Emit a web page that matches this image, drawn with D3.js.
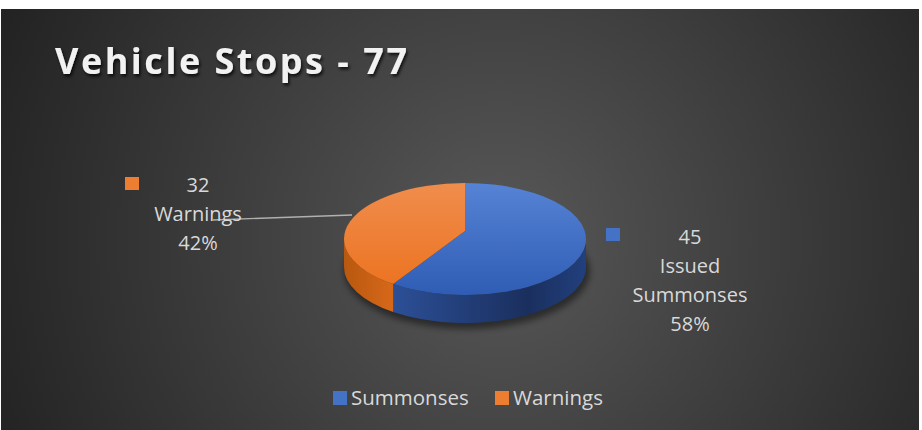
<!DOCTYPE html>
<html>
<head>
<meta charset="utf-8">
<script src="https://cdn.jsdelivr.net/npm/d3@7"></script>
<style>
  html, body { margin: 0; padding: 0; background: #fff; }
  body { font-family: "Open Sans", sans-serif; }
</style>
</head>
<body>
<div id="container"><svg></svg></div>
<script>
let width = 922;
let height = 430;

// data
let categories = ['Summonses', 'Warnings'];
let labels = ['Issued\nSummonses', 'Warnings'];
let values = [45, 32];
let title = 'Vehicle Stops - 77';

let topColors = ['#4472C4', '#ED7D31'];

function draw_main() {
    let svg = d3.select('#container').select('svg')
        .attr('width', width)
        .attr('height', height);

    let defs = svg.append('defs');

    // background gradient
    let bg = defs.append('radialGradient')
        .attr('id', 'bg')
        .attr('gradientUnits', 'userSpaceOnUse')
        .attr('cx', 500).attr('cy', 240).attr('r', 540);
    bg.append('stop').attr('offset', '0%').attr('stop-color', '#585858');
    bg.append('stop').attr('offset', '100%').attr('stop-color', '#232323');

    // top face gradients
    let tg0 = defs.append('linearGradient').attr('id', 'top0')
        .attr('x1', 0).attr('y1', 0).attr('x2', 0).attr('y2', 1);
    tg0.append('stop').attr('offset', '0%').attr('stop-color', '#5683d4');
    tg0.append('stop').attr('offset', '100%').attr('stop-color', '#2f5db5');
    let tg1 = defs.append('linearGradient').attr('id', 'top1')
        .attr('x1', 0).attr('y1', 0).attr('x2', 0).attr('y2', 1);
    tg1.append('stop').attr('offset', '0%').attr('stop-color', '#f08d4d');
    tg1.append('stop').attr('offset', '100%').attr('stop-color', '#ec7422');

    // side gradients
    let sg0 = defs.append('linearGradient').attr('id', 'side0')
        .attr('x1', 0).attr('y1', 0).attr('x2', 1).attr('y2', 0);
    sg0.append('stop').attr('offset', '0%').attr('stop-color', '#2c4f96');
    sg0.append('stop').attr('offset', '70%').attr('stop-color', '#1a2f5e');
    sg0.append('stop').attr('offset', '100%').attr('stop-color', '#22407e');
    let sg1 = defs.append('linearGradient').attr('id', 'side1')
        .attr('x1', 0).attr('y1', 0).attr('x2', 1).attr('y2', 0);
    sg1.append('stop').attr('offset', '0%').attr('stop-color', '#b8580f');
    sg1.append('stop').attr('offset', '100%').attr('stop-color', '#d7681a');

    // shadows
    let f = defs.append('filter').attr('id', 'tshadow')
        .attr('x', '-10%').attr('y', '-30%').attr('width', '120%').attr('height', '160%');
    f.append('feDropShadow').attr('dx', 1.5).attr('dy', 2.5).attr('stdDeviation', 1.8)
        .attr('flood-color', '#000').attr('flood-opacity', 0.75);
    let pf = defs.append('filter').attr('id', 'pshadow')
        .attr('x', '-20%').attr('y', '-30%').attr('width', '140%').attr('height', '160%');
    pf.append('feGaussianBlur').attr('stdDeviation', 3);

    svg.append('rect')
        .attr('x', 1).attr('y', 9)
        .attr('width', 918).attr('height', 421)
        .attr('fill', 'url(#bg)');

    // title
    svg.append('text')
        .attr('x', 55).attr('y', 74)
        .attr('fill', '#f2f2f2')
        .attr('font-size', 36)
        .attr('font-weight', 700)
        .attr('textLength', 352)
        .attr('lengthAdjust', 'spacing')
        .attr('filter', 'url(#tshadow)')
        .text(title);

    // pie geometry
    let cx = 465, cy = 239, rx = 121, ry = 56, depth = 28;
    let apex = [cx, cy - 8];
    let pie = d3.pie().sort(null).startAngle(0).endAngle(2 * Math.PI);
    let arcs = pie(values);
    // front half stretched a little for perspective
    let warp = a => a - 0.12 * Math.sin(2 * (a - Math.PI / 2)) * (Math.cos(a) < 0 ? 1 : 0);
    let pt = (a, dy) => [cx + rx * Math.sin(a), cy - ry * Math.cos(a) + (dy || 0)];

    let g = svg.append('g');

    // shadow under pie
    g.append('ellipse')
        .attr('cx', cx + 2).attr('cy', cy + depth + 4)
        .attr('rx', rx + 2).attr('ry', ry + 2)
        .attr('fill', '#000').attr('opacity', 0.45)
        .attr('filter', 'url(#pshadow)');

    // side walls (front half only)
    arcs.forEach((d, i) => {
        let a0 = Math.max(warp(d.startAngle), Math.PI / 2);
        let a1 = Math.min(warp(d.endAngle), 3 * Math.PI / 2);
        if (a1 <= a0) return;
        let p0 = pt(a0), p1 = pt(a1), q1 = pt(a1, depth), q0 = pt(a0, depth);
        let large = (a1 - a0) > Math.PI ? 1 : 0;
        let path = `M${p0}A${rx},${ry} 0 ${large} 1 ${p1}L${q1}A${rx},${ry} 0 ${large} 0 ${q0}Z`;
        g.append('path').attr('d', path).attr('fill', `url(#side${i})`);
    });

    // top faces
    g.selectAll('path.top')
        .data(arcs)
        .enter()
        .append('path')
        .attr('class', 'top')
        .attr('d', d => {
            let a0 = warp(d.startAngle), a1 = warp(d.endAngle);
            let p0 = pt(a0), p1 = pt(a1);
            let large = (a1 - a0) > Math.PI ? 1 : 0;
            return `M${apex}L${p0}A${rx},${ry} 0 ${large} 1 ${p1}Z`;
        })
        .attr('fill', (d, i) => `url(#top${i})`);

    let total = d3.sum(values);
    let pct = d3.format('.0%');

    // leader line for warnings
    svg.append('line')
        .attr('x1', 213).attr('y1', 220)
        .attr('x2', 352).attr('y2', 215)
        .attr('stroke', '#b0b0b0').attr('stroke-width', 1.3);

    // data labels
    let labelPos = [
        {sq: [606, 228], tx: 690, ty: 244},
        {sq: [125, 177], tx: 198, ty: 192}
    ];
    let lh = 29;
    arcs.forEach((d, i) => {
        let lp = labelPos[i];
        svg.append('rect')
            .attr('x', lp.sq[0]).attr('y', lp.sq[1])
            .attr('width', 14).attr('height', 13)
            .attr('fill', topColors[i]);
        let lines = [String(values[i])].concat(labels[i].split('\n')).concat([pct(values[i] / total)]);
        let t = svg.append('text')
            .attr('fill', '#d9d9d9')
            .attr('font-size', 20)
            .attr('text-anchor', 'middle');
        lines.forEach((s, k) => {
            t.append('tspan').attr('x', lp.tx).attr('y', lp.ty + k * lh).text(s);
        });
    });

    // legend
    let legendX = [333, 495];
    categories.forEach((c, i) => {
        svg.append('rect')
            .attr('x', legendX[i]).attr('y', 391)
            .attr('width', 14).attr('height', 14)
            .attr('fill', topColors[i]);
        svg.append('text')
            .attr('x', legendX[i] + 18).attr('y', 405)
            .attr('fill', '#d9d9d9')
            .attr('font-size', 20.5)
            .text(c);
    });
}

draw_main();
</script>
</body>
</html>
